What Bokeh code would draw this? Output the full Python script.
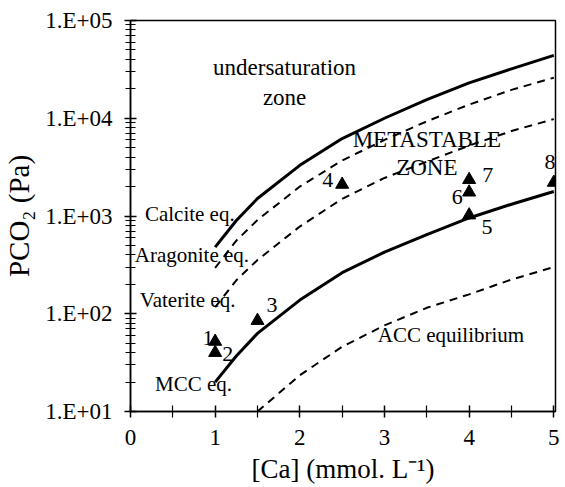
from bokeh.plotting import figure
from bokeh.models import Range1d, LogTicker, FixedTicker, CustomJSTickFormatter
from bokeh.core.properties import value
from bokeh.embed import file_html
from bokeh.resources import INLINE

FONT = "Liberation Serif"

# ---- data ----
ca_grid = [1.0, 1.25, 1.5, 2.0, 2.5, 3.0, 3.5, 4.0, 4.5, 5.0]
calcite = [480, 900, 1510, 3300, 6200, 10000, 15500, 23000, 32000, 44000]
aragonite = [295, 560, 910, 2000, 3700, 6000, 9300, 13800, 19500, 26000]
vaterite = [117, 220, 355, 780, 1500, 2450, 3600, 5250, 7400, 9800]
mcc = [20, 37, 63, 138, 263, 427, 645, 955, 1320, 1780]

acc_ca = [1.5, 2.0, 2.5, 3.0, 3.5, 4.0, 4.5, 5.0]
acc = [10, 23.5, 46, 76, 115, 158, 224, 300]

exp_ca = [1.0, 1.0, 1.5, 2.5, 4.0, 4.0, 4.0, 5.0]
exp_pco2 = [52, 40, 85, 2100, 1020, 1750, 2350, 2200]
exp_labels = ["1", "2", "3", "4", "5", "6", "7", "8"]
exp_label_x = [0.915, 1.15, 1.67, 2.33, 4.21, 3.86, 4.22, 4.955]
exp_label_y = [57, 39, 123, 2340, 780, 1550, 2630, 3560]

curve_names = ["Calcite eq.", "Aragonite eq.", "Vaterite eq.", "MCC eq.", "ACC equilibrium"]
curve_name_x = [0.17, 0.05, 0.11, 0.29, 2.92]
curve_name_y = [1050, 400, 138, 19, 60]

zone_texts = ["undersaturation", "zone", "METASTABLE", "ZONE"]
zone_x = [1.82, 1.82, 3.5, 3.5]
zone_y = [33000, 16300, 6000, 3100]

x_ticks = [0, 1, 2, 3, 4, 5]
x_minor = [0.5, 1.5, 2.5, 3.5, 4.5]

p = figure(width=561, height=486, output_backend="svg", toolbar_location=None,
           y_axis_type="log", x_range=Range1d(0, 5.02), y_range=Range1d(10, 1e5),
           min_border_left=130, min_border_right=6, min_border_top=20, min_border_bottom=74)
p.background_fill_color = "white"
p.border_fill_color = "white"
p.outline_line_color = "black"
p.outline_line_width = 1.5
p.grid.visible = False

# curves
DASH = "8 6"
p.line(ca_grid, calcite, line_color="black", line_width=3)
p.line(ca_grid, aragonite, line_color="black", line_width=2, line_dash=DASH)
p.line(ca_grid, vaterite, line_color="black", line_width=2, line_dash=DASH)
p.line(ca_grid, mcc, line_color="black", line_width=3)
p.line(acc_ca, acc, line_color="black", line_width=2, line_dash=DASH)

# experimental points
p.scatter(exp_ca, exp_pco2, marker="triangle", size=13, fill_color="black", line_color="black")

p.text(exp_label_x, exp_label_y, text=exp_labels, text_font=value(FONT), text_font_size="22px",
       text_align="center", text_baseline="middle", text_color="black")
p.text(curve_name_x, curve_name_y, text=curve_names, text_font=value(FONT), text_font_size="21px",
       text_align="left", text_baseline="middle", text_color="black")
p.text(zone_x, zone_y, text=zone_texts, text_font=value(FONT), text_font_size="23px",
       text_align="center", text_baseline="middle", text_color="black")

# axes
xa = p.xaxis[0]
xa.ticker = FixedTicker(ticks=x_ticks, minor_ticks=x_minor)
xa.axis_label = "[Ca] (mmol. L\u207b\u00b9)"
ya = p.yaxis[0]
ya.ticker = LogTicker(num_minor_ticks=10)
ya.formatter = CustomJSTickFormatter(code="""
    const e = Math.round(Math.log10(tick));
    return "1.E+" + String(e).padStart(2, "0");
""")
ya.axis_label = "PCO\u2082 (Pa)"

for ax in (xa, ya):
    ax.axis_line_width = 1.5
    ax.axis_line_color = "black"
    ax.major_tick_in = 6
    ax.major_tick_out = 6
    ax.minor_tick_in = 5
    ax.minor_tick_out = 5
    ax.major_tick_line_width = 1.5
    ax.minor_tick_line_width = 1.2
    ax.major_label_text_font = FONT
    ax.major_label_text_font_size = "23px"
    ax.major_label_text_color = "black"
    ax.axis_label_text_font = FONT
    ax.axis_label_text_font_style = "normal"
    ax.axis_label_text_color = "black"
xa.axis_label_text_font_size = "27px"
ya.axis_label_text_font_size = "29px"
xa.minor_tick_in = 6
xa.minor_tick_out = 6
xa.major_label_standoff = 12
xa.axis_label_standoff = 6
ya.major_label_standoff = 12
ya.axis_label_standoff = 7

open("out.html", "w").write(file_html(p, INLINE))
